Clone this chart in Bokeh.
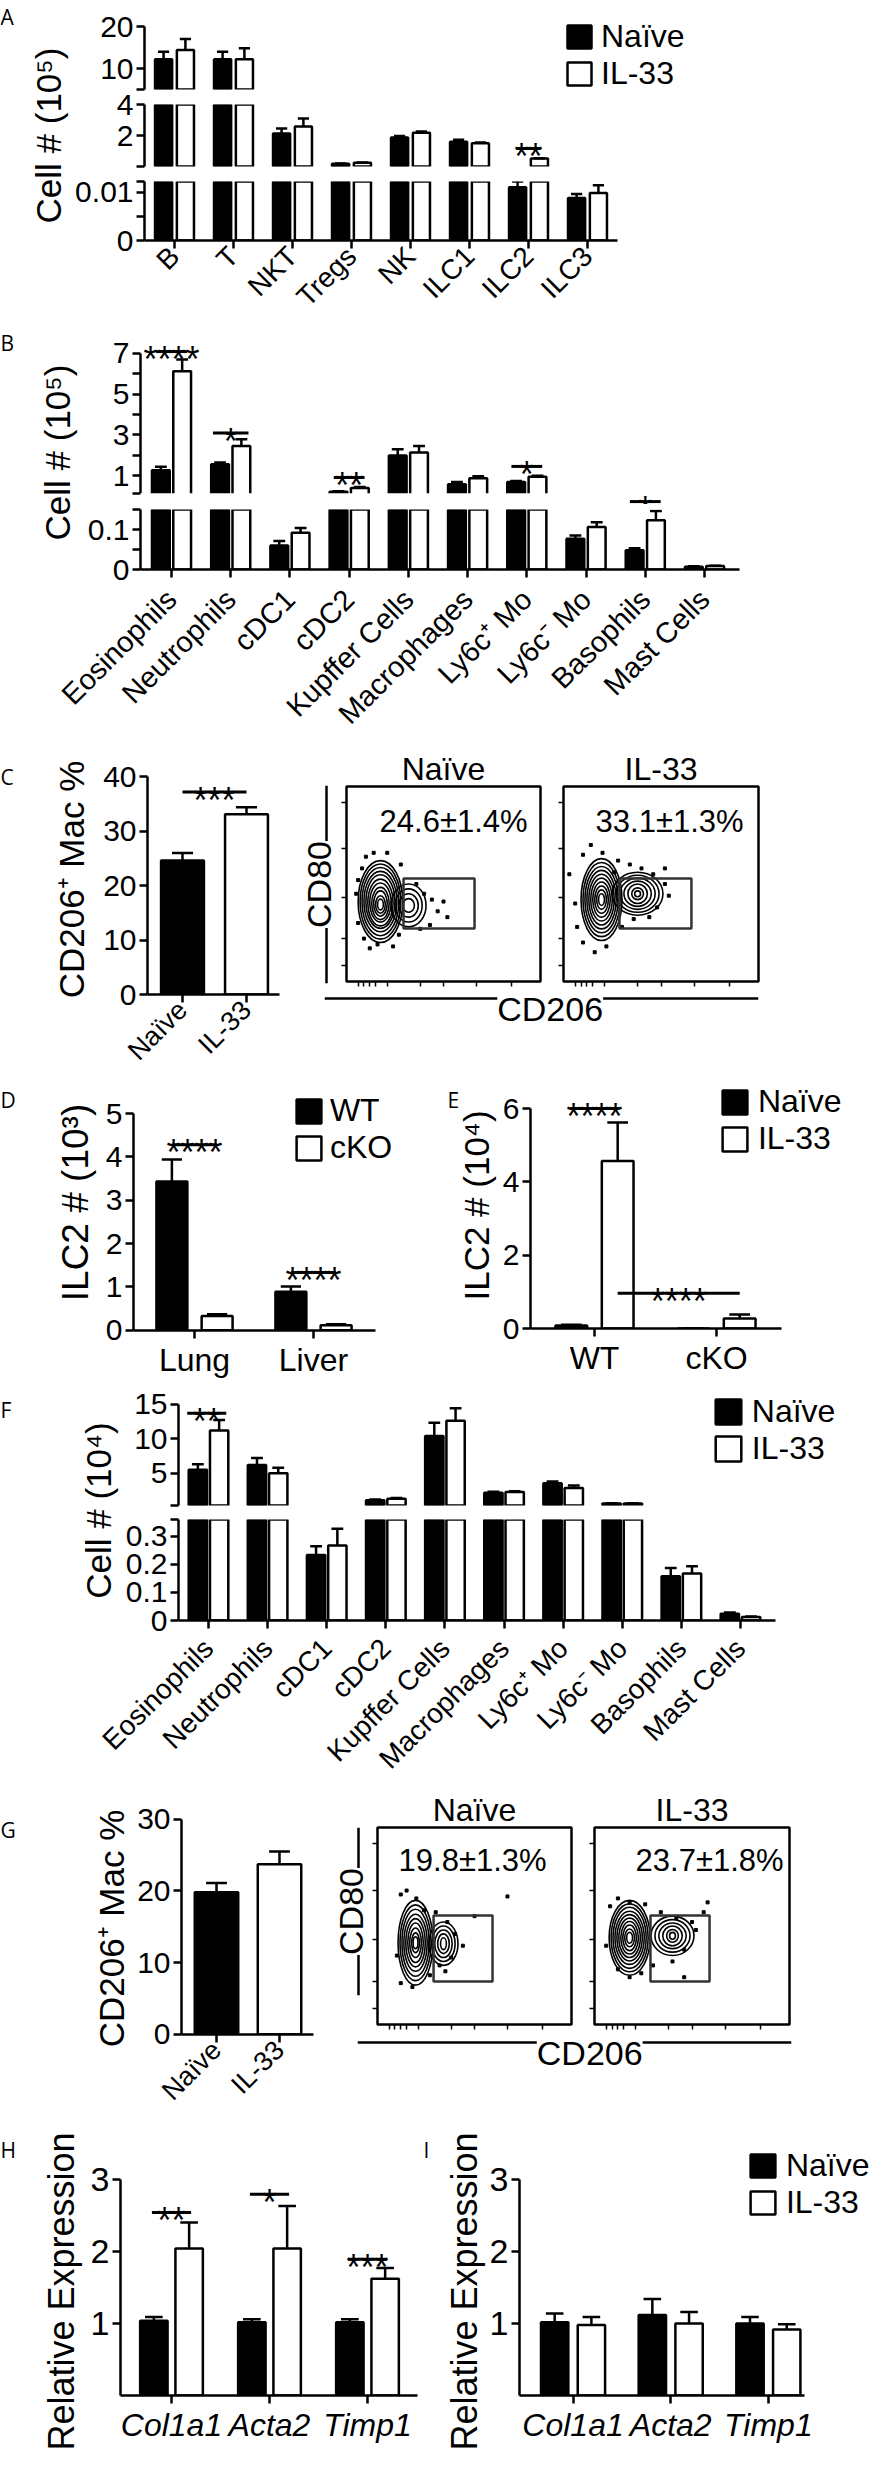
import math
from bokeh.plotting import figure
from bokeh.models import (Range1d, LinearAxis, FixedTicker, Label, Legend, LegendItem,
                          ColumnDataSource, Span, BoxAnnotation, CDSView, BooleanFilter)
from bokeh.layouts import row, column
from bokeh.embed import file_html
from bokeh.resources import INLINE
from bokeh.core.properties import value
from bokeh.core.validation import silence
from bokeh.core.validation.warnings import MISSING_RENDERERS

silence(MISSING_RENDERERS, True)

# ============================ DATA ============================
GROUPS = ["Naïve", "IL-33"]

# A: liver lymphocytes, Cell # (10^5)
A_cats = ["B", "T", "NKT", "Tregs", "NK", "ILC1", "ILC2", "ILC3"]
A_naive = [12.2, 12.2, 2.13, 0.19, 1.87, 1.61, 0.011, 0.0088]
A_naive_sem = [1.8, 1.8, 0.32, 0.02, 0.10, 0.13, 0.0012, 0.0008]
A_il33 = [14.4, 12.2, 2.58, 0.25, 2.19, 1.50, 0.52, 0.0098]
A_il33_sem = [2.6, 2.6, 0.52, 0.02, 0.07, 0.05, 0.03, 0.0016]
A_sig_x0 = [5.79]
A_sig_x1 = [6.21]
A_sig_y = [1.17]
A_sig_txt = ["**"]

# B: liver myeloid cells, Cell # (10^5)
B_cats = ["Eosinophils", "Neutrophils", "cDC1", "cDC2", "Kupffer Cells", "Macrophages",
          "Ly6c⁺ Mo", "Ly6c⁻ Mo", "Basophils", "Mast Cells"]
B_naive = [1.27, 1.57, 0.060, 0.22, 2.00, 0.59, 0.70, 0.077, 0.048, 0.007]
B_naive_sem = [0.18, 0.08, 0.011, 0.03, 0.30, 0.11, 0.05, 0.008, 0.005, 0.001]
B_il33 = [6.12, 2.46, 0.092, 0.40, 2.14, 0.88, 0.95, 0.106, 0.123, 0.0085]
B_il33_sem = [0.57, 0.33, 0.012, 0.05, 0.32, 0.10, 0.05, 0.012, 0.023, 0.001]
B_sig_x0 = [-0.26, 0.70, 2.74, 5.74, 7.74]
B_sig_x1 = [0.26, 1.30, 3.26, 6.26, 8.26]
B_sig_y = [7.08, 3.09, 0.92, 1.46, -0.26]
B_sig_txt = ["****", "*", "**", "*", "*"]

# C: CD206+ macrophages %
C_vals = [24.6, 33.1]
C_sem = [1.4, 1.3]
C_sig_x0 = [0.0]
C_sig_x1 = [1.0]
C_sig_y = [37.2]
C_sig_txt = ["***"]
C_pct = ["24.6±1.4%", "33.1±1.3%"]

# D: ILC2 # (10^3), WT vs cKO
D_cats = ["Lung", "Liver"]
D_groups = ["WT", "cKO"]
D_wt = [3.43, 0.89]
D_wt_sem = [0.51, 0.12]
D_cko = [0.33, 0.115]
D_cko_sem = [0.04, 0.025]
D_sig_x0 = [-0.19, 0.81]
D_sig_x1 = [0.19, 1.19]
D_sig_y = [4.28, 1.33]
D_sig_txt = ["****", "****"]

# E: ILC2 # (10^4)
E_cats = ["WT", "cKO"]
E_naive = [0.08, 0.0]
E_naive_sem = [0.02, 0.0]
E_il33 = [4.57, 0.27]
E_il33_sem = [1.05, 0.11]
E_sig_x0 = [-0.20, 0.19]
E_sig_x1 = [0.20, 1.19]
E_sig_y = [6.0, 0.96]
E_sig_txt = ["****", "****"]

# F: cKO myeloid cells, Cell # (10^4)
F_naive = [5.5, 6.2, 0.233, 1.09, 10.4, 2.16, 3.53, 0.60, 0.157, 0.024]
F_naive_sem = [0.8, 1.0, 0.031, 0.10, 1.9, 0.14, 0.27, 0.03, 0.030, 0.004]
F_il33 = [11.2, 5.0, 0.267, 1.28, 12.6, 2.26, 2.85, 0.60, 0.167, 0.012]
F_il33_sem = [1.5, 0.8, 0.059, 0.12, 1.8, 0.14, 0.35, 0.03, 0.026, 0.002]
F_sig_x0 = [-0.36]
F_sig_x1 = [0.30]
F_sig_y = [13.7]
F_sig_txt = ["**"]

# G: CD206+ macrophages % (cKO)
G_vals = [19.8, 23.7]
G_sem = [1.3, 1.8]
G_pct = ["19.8±1.3%", "23.7±1.8%"]

# H / I: relative expression
H_cats = ["Col1a1", "Acta2", "Timp1"]
H_naive = [1.04, 1.02, 1.02]
H_naive_sem = [0.05, 0.04, 0.04]
H_il33 = [2.04, 2.04, 1.62]
H_il33_sem = [0.36, 0.59, 0.15]
H_sig_x0 = [-0.20, 0.80, 1.80]
H_sig_x1 = [0.20, 1.20, 2.20]
H_sig_y = [2.54, 2.79, 1.89]
H_sig_txt = ["**", "*", "***"]
I_naive = [1.02, 1.12, 1.00]
I_naive_sem = [0.12, 0.22, 0.09]
I_il33 = [0.98, 1.00, 0.92]
I_il33_sem = [0.11, 0.16, 0.07]

# Flow plots (CD206 vs CD80): contour ellipses, events, gates
CN_ex = [17.5, 17.5, 17.5, 17.5, 17.5, 17.5, 17.5, 17.5, 17.5, 17.5, 17.5, 32, 32, 32, 32]
CN_ey = [41, 41, 41, 41, 41, 40.5, 40.5, 40, 40, 39.5, 39.5, 39, 39, 39, 39]
CN_ew = [23, 21, 19, 17, 15, 13, 11, 9, 7, 5, 3, 18, 14, 10, 6]
CN_eh = [42, 38.5, 35, 31, 27.5, 24, 20, 16.5, 13, 9, 5.5, 22, 17, 12, 7]
CN_dx = [8, 10, 14, 21, 5, 6, 9, 16, 24, 27, 36, 40, 44, 47, 43, 50, 52, 38, 6, 28, 12]
CN_dy = [58, 64, 66, 66, 45, 30, 22, 19, 18, 24, 50, 45, 42, 36, 29, 41, 33, 27, 52, 60, 17]
CN_gate = [29.4, 66.0, 27.2, 52.8]

CI_ex = [19.5, 19.5, 19.5, 19.5, 19.5, 19.5, 19.5, 19.5, 19.5, 19.5, 38, 38, 38, 38, 38, 38, 38]
CI_ey = [42, 42, 42, 42, 42, 42, 42, 42, 42, 42, 45, 45, 45, 45, 45, 45, 45]
CI_ew = [21, 19, 17, 15, 13, 11, 9, 7, 5, 3, 26, 22, 18, 14, 10, 6, 3]
CI_eh = [42, 38, 34, 30, 26, 22, 18, 14, 10, 6, 22, 19, 16, 13, 10, 6, 3]
CI_dx = [10, 14, 20, 28, 34, 40, 46, 52, 54, 6, 7, 10, 16, 22, 30, 36, 44, 48, 26, 3, 52]
CI_dy = [65, 70, 66, 62, 60, 58, 55, 50, 44, 40, 28, 20, 15, 18, 28, 32, 33, 38, 56, 55, 58]
CI_gate = [28.7, 65.6, 27.2, 52.8]

GN_ex = [19.6, 19.6, 19.6, 19.6, 19.6, 19.6, 19.6, 19.6, 19.6, 34, 34, 34, 34, 34]
GN_ey = [41.5, 41.5, 41.5, 41.5, 41.5, 41.5, 41.5, 41.5, 41.5, 41, 41, 41, 41, 41]
GN_ew = [18, 16, 14, 12, 10, 8, 6, 4, 2.5, 15, 12, 9, 6, 3]
GN_eh = [43, 38.5, 34, 29, 24.5, 20, 15, 10, 6, 22, 18, 14, 10, 6]
GN_dx = [12, 15, 20, 24, 30, 36, 40, 44, 38, 32, 27, 18, 12, 10, 50, 67, 35]
GN_dy = [66, 68, 64, 58, 57, 52, 46, 40, 34, 30, 25, 19, 21, 35, 55, 65, 27]
GN_gate = [28.9, 59.3, 21.8, 55.3]

GI_ex = [18, 18, 18, 18, 18, 18, 18, 18, 18, 18, 40, 40, 40, 40, 40, 40]
GI_ey = [44, 44, 44, 44, 44, 44, 44, 44, 44, 44, 45, 45, 45, 45, 45, 45]
GI_ew = [21, 19, 17, 15, 13, 11, 9, 7, 5, 3, 22, 18, 14, 10, 6, 3]
GI_eh = [38, 34.5, 31, 27, 23.5, 20, 16.5, 13, 9, 5.5, 20, 16.5, 13, 10, 6.5, 3.5]
GI_dx = [8, 12, 18, 26, 34, 42, 50, 56, 52, 46, 40, 30, 24, 18, 12, 6, 46, 58]
GI_dy = [60, 64, 62, 61, 57, 54, 52, 57, 48, 38, 32, 30, 26, 24, 28, 40, 24, 62]
GI_gate = [28.7, 59.0, 21.8, 55.3]

# ============================ STYLE / HELPERS ============================
FONT = "Liberation Sans"
LETTER_FONT = "Open Sans"
LW = 2.5
STAR = 36


def W(p):
    # isolate each plot in its own container so that layouts do not align frames
    return column(p)


def rng_from(va, ya, vb, yb, ftop, fbot):
    s = (ya - yb) / (vb - va)
    return Range1d(va - (fbot - ya) / s, vb + (yb - ftop) / s)


def xrng(tick0_px, spacing, fx0, fx1):
    return Range1d((fx0 - tick0_px) / spacing, (fx1 - tick0_px) / spacing)


def mkfig(box, frame, xr, yr):
    cx0, cy0, cx1, cy1 = box
    fx0, fy0, fx1, fy1 = frame
    p = figure(width=cx1 - cx0, height=cy1 - cy0, x_range=xr, y_range=yr,
               output_backend="svg", toolbar_location=None,
               x_axis_location=None, y_axis_location=None,
               min_border_left=fx0 - cx0, min_border_right=cx1 - fx1,
               min_border_top=fy0 - cy0, min_border_bottom=cy1 - fy1)
    p.outline_line_color = None
    p.grid.visible = False
    p.background_fill_color = "white"
    p.border_fill_color = "white"
    return p


def label_fig(box):
    return mkfig(box, box, Range1d(0, 1), Range1d(0, 1))


def style_axis(ax, size, italic=False):
    ax.axis_line_width = LW
    ax.axis_line_color = "black"
    ax.major_tick_line_width = LW
    ax.major_tick_line_color = "black"
    ax.major_tick_out = 8
    ax.major_tick_in = 0
    # unlabeled ticks (axis breaks, intermediate ticks) look like the labeled ones
    ax.minor_tick_line_width = LW
    ax.minor_tick_line_color = "black"
    ax.minor_tick_out = 8
    ax.minor_tick_in = 0
    ax.major_label_text_font = FONT
    ax.major_label_text_font_size = f"{size}px"
    ax.major_label_text_color = "black"
    ax.major_label_standoff = 3
    if italic:
        ax.major_label_text_font_style = "italic"


def yaxis(p, ticks, labels, bounds, size=30, minor=()):
    ax = LinearAxis(ticker=FixedTicker(ticks=ticks, minor_ticks=list(minor)), bounds=bounds,
                    major_label_overrides=dict(zip(ticks, labels)))
    style_axis(ax, size)
    p.add_layout(ax, "left")


def xaxis(p, names, size, orient=None, italic=False, bounds="auto", show_labels=True):
    idx = list(range(len(names)))
    if show_labels:
        ax = LinearAxis(ticker=FixedTicker(ticks=idx), bounds=bounds,
                        major_label_overrides={i: nm for i, nm in enumerate(names)})
    else:
        ax = LinearAxis(ticker=FixedTicker(ticks=[], minor_ticks=idx), bounds=bounds)
    style_axis(ax, size, italic)
    if orient is not None:
        ax.major_label_orientation = orient
    p.add_layout(ax, "below")


def xlabel_fig(box, frame, xr, names, size, orient):
    # category names of a broken-axis panel, drawn by an axis without line or ticks
    p = mkfig(box, frame, xr, Range1d(0, 1))
    ax = LinearAxis(ticker=FixedTicker(ticks=list(range(len(names)))),
                    major_label_overrides={i: nm for i, nm in enumerate(names)})
    style_axis(ax, size)
    ax.axis_line_color = None
    ax.major_tick_line_color = None
    ax.major_tick_out = 0
    ax.major_label_standoff = 2
    ax.major_label_orientation = orient
    p.add_layout(ax, "below")
    return p


def bars(p, xs, vals, sems, fill, width, capw, floor=None):
    src = ColumnDataSource(dict(x=xs, top=vals, err=[v + s for v, s in zip(vals, sems)],
                                xl=[x - capw / 2 for x in xs], xr=[x + capw / 2 for x in xs]))
    kw = {}
    if floor is not None:
        kw["view"] = CDSView(filter=BooleanFilter([v > floor for v in vals]))
    r = p.vbar(x="x", top="top", bottom=0, width=width, source=src,
               fill_color=fill, line_color="black", line_width=LW, **kw)
    p.segment(x0="x", y0="top", x1="x", y1="err", source=src, line_color="black", line_width=LW, **kw)
    p.segment(x0="xl", y0="err", x1="xr", y1="err", source=src, line_color="black", line_width=LW, **kw)
    return r


def pair(p, naive, nsem, il33, isem, off, width, capw, floor=None):
    n = len(naive)
    rn = bars(p, [i - off for i in range(n)], naive, nsem, "black", width, capw, floor)
    ri = bars(p, [i + off for i in range(n)], il33, isem, "white", width, capw, floor)
    return rn, ri


def sig(p, x0, x1, y, txt, size=STAR):
    src = ColumnDataSource(dict(x0=x0, x1=x1, y=y, xm=[(a + b) / 2 for a, b in zip(x0, x1)], t=txt))
    p.segment(x0="x0", y0="y", x1="x1", y1="y", source=src, line_color="black", line_width=3,
              level="overlay")
    p.text(x="xm", y="y", text="t", source=src, text_align="center", text_baseline="alphabetic",
           y_offset=8, text_font=value(FONT), text_font_size=value(f"{size}px"), text_color="black",
           level="overlay")


def lab(p, frame, text, px, py, size, angle=0.0, align="center", baseline="middle",
        font=FONT, style="normal"):
    fx0, fy0, fx1, fy1 = frame
    p.add_layout(Label(x=px - fx0, y=fy1 - py, x_units="screen", y_units="screen", text=text,
                       angle=angle, text_align=align, text_baseline=baseline, text_font=font,
                       text_font_size=f"{size}px", text_font_style=style, text_color="black"))


def letter(p, frame, text, px, py):
    lab(p, frame, text, px, py, 21, align="left", baseline="top", font=LETTER_FONT)


def ylab(p, frame, text, px, py, size=35):
    lab(p, frame, text, px, py, size, angle=math.pi / 2)


def legend(p, frame, rn, ri, names, sw_left, sw_tops, sw_w, sw_h, text_x, size=32):
    fx0, fy0, fx1, fy1 = frame
    gw = round(sw_w / 0.8)
    gh = round(sw_h / 0.8)
    pitch = sw_tops[1] - sw_tops[0]
    mh = math.ceil(1.117 * size)
    row_h = max(gh, pitch, mh)
    spacing = pitch - row_h
    box_x = sw_left - 0.1 * gw
    box_top = sw_tops[0] - 0.1 * gh
    leg_h = row_h + pitch
    leg = Legend(items=[LegendItem(label=names[0], renderers=[rn]),
                        LegendItem(label=names[1], renderers=[ri])],
                 location=(box_x - fx0, fy1 - (box_top + leg_h)),
                 orientation="vertical", glyph_width=gw, glyph_height=gh,
                 label_standoff=int(round(text_x - (box_x + gw))), label_height=pitch,
                 spacing=spacing, padding=0, margin=0, border_line_color=None,
                 background_fill_alpha=0, label_text_font=FONT,
                 label_text_font_size=f"{size}px", label_text_color="black",
                 label_text_baseline="middle")
    p.add_layout(leg)


def facs(box, frame, ex, ey, ew, eh, dx, dy, gate, title, pct, pct_xy):
    p = mkfig(box, frame, Range1d(0, 100), Range1d(0, 100))
    p.outline_line_color = "black"
    p.outline_line_width = LW
    p.title.text = title
    p.title.align = "center"
    p.title.text_font = FONT
    p.title.text_font_size = "32px"
    p.title.text_font_style = "normal"
    p.title.text_color = "black"
    p.title.standoff = 0
    for loc, ticks in (("left", [8, 22, 43, 68, 92]), ("below", [6, 9, 12, 15, 21, 38, 50, 67, 85])):
        ax = LinearAxis(ticker=FixedTicker(ticks=[], minor_ticks=ticks))
        ax.axis_line_color = None
        ax.major_tick_line_color = None
        ax.minor_tick_out = 5
        ax.minor_tick_in = 0
        ax.minor_tick_line_width = 1.5
        ax.minor_tick_line_color = "black"
        p.add_layout(ax, loc)
    p.ellipse(x=ex, y=ey, width=ew, height=eh, fill_color=None, line_color="black", line_width=1.6)
    p.scatter(x=dx, y=dy, marker="square", size=3, color="black")
    p.quad(left=[gate[0]], right=[gate[1]], bottom=[gate[2]], top=[gate[3]],
           fill_color=None, line_color="#333333", line_width=LW)
    p.add_layout(Label(x=pct_xy[0], y=pct_xy[1], x_units="data", y_units="data", text=pct,
                       text_align="center", text_baseline="middle", text_font=FONT,
                       text_font_size="31px", text_color="black"))
    return p


def cd80_fig(box, frame, left_units):
    # x range in pixel-like units: the axis line sits at 0
    p = mkfig(box, frame, Range1d(-left_units, 12), Range1d(0, 1))
    p.add_layout(Span(location=0, dimension="height", line_color="black", line_width=LW))
    p.add_layout(Label(x=-8, y=0.5, x_units="data", y_units="data", text="CD80", angle=math.pi / 2,
                       text_align="center", text_baseline="middle", text_font=FONT,
                       text_font_size="34px", text_color="black", background_fill_color="white"))
    return p


def cd206_fig(box, frame, frac):
    # y range in pixel-like units: the axis line sits at 0
    p = mkfig(box, frame, Range1d(0, 1), Range1d(-34, 10))
    p.add_layout(Span(location=0, dimension="width", line_color="black", line_width=LW))
    p.add_layout(Label(x=frac, y=-10, x_units="data", y_units="data", text="CD206",
                       text_align="center", text_baseline="middle", text_font=FONT,
                       text_font_size="34px", text_color="black", background_fill_color="white"))
    return p


# ============================ ROW 1: A ============================
fA_top = (152, 8, 878, 97)
fA_mid = (152, 112, 625, 174)
fA_bot = (152, 189, 625, 250)
A_top = mkfig((80, 8, 878, 99), fA_top, xrng(182, 59, 152, 878), rng_from(5, 97, 20, 34, 8, 97))
A_mid = mkfig((80, 99, 878, 181), fA_mid, xrng(182, 59, 152, 625), rng_from(0.0122, 174, 4, 112, 112, 174))
A_bot = mkfig((80, 181, 878, 334), fA_bot, xrng(182, 59, 152, 625), rng_from(0, 250, 0.0122, 189, 189, 250))
rnA, riA = pair(A_top, A_naive, A_naive_sem, A_il33, A_il33_sem, 0.185, 0.29, 0.19, 5)
pair(A_mid, A_naive, A_naive_sem, A_il33, A_il33_sem, 0.185, 0.29, 0.19, 0.0122)
pair(A_bot, A_naive, A_naive_sem, A_il33, A_il33_sem, 0.185, 0.29, 0.19)
yaxis(A_top, [10, 20], ["10", "20"], (5, 20), minor=[5])
yaxis(A_mid, [2, 4], ["2", "4"], (0.0122, 4), minor=[0.0122])
yaxis(A_bot, [0, 0.01], ["0", "0.01"], (0, 0.0122), minor=[0.005, 0.0122])
sig(A_mid, A_sig_x0, A_sig_x1, A_sig_y, A_sig_txt)
xaxis(A_bot, A_cats, 28, math.pi / 4)
legend(A_top, fA_top, rnA, riA, GROUPS, 575, [32, 67], 24, 23, 609)
fLA = (8, 8, 80, 334)
labelA = label_fig(fLA)
ylab(labelA, fLA, "Cell # (10⁵)", 56, 143)
letter(labelA, fLA, "A", 8, 10)
r1 = row(W(labelA), column(W(A_top), W(A_mid), W(A_bot)))

# ============================ ROW 2: B ============================
fB_top = (148, 335, 747, 510)
fB_bot = (148, 517, 747, 577)
xB = xrng(179, 59.22, 148, 747)
yB_top = rng_from(0.15, 500.7, 7, 360.7, 335, 510)
B_top = mkfig((86, 334, 878, 512), fB_top, xB, yB_top)
B_bot = mkfig((86, 512, 878, 590), fB_bot, xB, rng_from(0, 577, 0.15, 517, 517, 577))
pair(B_top, B_naive, B_naive_sem, B_il33, B_il33_sem, 0.18, 0.30, 0.2, 0.15)
pair(B_bot, B_naive, B_naive_sem, B_il33, B_il33_sem, 0.18, 0.30, 0.2)
# white gap of the broken axis below the top segment
B_top.add_layout(BoxAnnotation(top=0.15, bottom=yB_top.start, left=xB.start, right=xB.end,
                               fill_color="white", fill_alpha=1.0, line_color=None))
yaxis(B_top, [1, 3, 5, 7], ["1", "3", "5", "7"], (0.15, 7), minor=[0.15, 2, 4, 6])
yaxis(B_bot, [0, 0.1], ["0", "0.1"], (0, 0.15), minor=[0.05, 0.15])
sig(B_top, B_sig_x0, B_sig_x1, B_sig_y, B_sig_txt)
xaxis(B_bot, B_cats, 30, show_labels=False)
B_lab = xlabel_fig((8, 590, 878, 752), (148, 590, 747, 600), xB, B_cats, 29, math.pi / 4)
fLB = (8, 334, 86, 590)
labelB = label_fig(fLB)
ylab(labelB, fLB, "Cell # (10⁵)", 65, 460)
letter(labelB, fLB, "B", 8, 336)
r2 = column(row(W(labelB), column(W(B_top), W(B_bot))), W(B_lab))

# ============================ ROW 3: C ============================
fLC = (8, 752, 100, 1088)
labelC = label_fig(fLC)
ylab(labelC, fLC, "CD206⁺ Mac %", 79, 887)
letter(labelC, fLC, "C", 8, 770)
fC = (155, 770, 287, 1002)
C_bar = mkfig((100, 752, 300, 1088), fC, xrng(190, 64, 155, 287), rng_from(0, 1002, 40, 784.3, 770, 1002))
bars(C_bar, [0], [C_vals[0]], [C_sem[0]], "black", 0.67, 0.33)
bars(C_bar, [1], [C_vals[1]], [C_sem[1]], "white", 0.67, 0.33)
yaxis(C_bar, [0, 10, 20, 30, 40], ["0", "10", "20", "30", "40"], (0, 40))
xaxis(C_bar, GROUPS, 27, math.pi / 4)
sig(C_bar, C_sig_x0, C_sig_x1, C_sig_y, C_sig_txt)
cd80_C = cd80_fig((300, 752, 346, 996), (304, 793, 346, 991), 30)
naive_C = facs((346, 752, 560, 996), (354, 794, 548, 989), CN_ex, CN_ey, CN_ew, CN_eh, CN_dx, CN_dy,
               CN_gate, GROUPS[0], C_pct[0], (55.2, 82))
il33_C = facs((560, 752, 878, 996), (571, 794, 766, 989), CI_ex, CI_ey, CI_ew, CI_eh, CI_dx, CI_dy,
              CI_gate, GROUPS[1], C_pct[1], (54.4, 82))
cd206_C = cd206_fig((300, 996, 878, 1088), (332, 996, 766, 1040), 0.52)
r3 = row(W(labelC), W(C_bar), column(row(W(cd80_C), W(naive_C), W(il33_C)), W(cd206_C)))

# ============================ ROW 4: D, E ============================
fLD = (8, 1088, 105, 1392)
labelD = label_fig(fLD)
ylab(labelD, fLD, "ILC2 # (10³)", 83, 1210, 37)
letter(labelD, fLD, "D", 8, 1093)
fD = (141, 1090, 450, 1338)
D = mkfig((105, 1088, 450, 1392), fD, xrng(202, 119, 141, 450), rng_from(0, 1337.7, 5, 1121, 1090, 1338))
rnD, riD = pair(D, D_wt, D_wt_sem, D_cko, D_cko_sem, 0.19, 0.26, 0.17)
yaxis(D, [0, 1, 2, 3, 4, 5], ["0", "1", "2", "3", "4", "5"], (0, 5))
xaxis(D, D_cats, 32, bounds=((141 - 202) / 119, (383 - 202) / 119))
sig(D, D_sig_x0, D_sig_x1, D_sig_y, D_sig_txt)
legend(D, fD, rnD, riD, D_groups, 304, [1103, 1140], 25, 24, 338)

fLE = (450, 1088, 505, 1392)
labelE = label_fig(fLE)
ylab(labelE, fLE, "ILC2 # (10⁴)", 484, 1213)
letter(labelE, fLE, "E", 455, 1093)
fE = (538, 1090, 878, 1336)
E = mkfig((505, 1088, 878, 1392), fE, xrng(602, 122, 538, 878), rng_from(0, 1336, 6, 1116, 1090, 1336))
rnE, riE = pair(E, E_naive, E_naive_sem, E_il33, E_il33_sem, 0.19, 0.26, 0.17)
yaxis(E, [0, 2, 4, 6], ["0", "2", "4", "6"], (0, 6))
xaxis(E, E_cats, 32, bounds=((538 - 602) / 122, (789 - 602) / 122))
sig(E, E_sig_x0, E_sig_x1, E_sig_y, E_sig_txt)
legend(E, fE, rnE, riE, GROUPS, 730, [1098, 1132], 25, 24, 766)
r4 = row(W(labelD), W(D), W(labelE), W(E))

# ============================ ROW 5: F ============================
fF_top = (186, 1392, 878, 1513)
fF_bot = (186, 1527, 783, 1628)
xF = xrng(216, 59.11, 186, 783)
F_top = mkfig((128, 1392, 878, 1519), fF_top, xrng(216, 59.11, 186, 878),
              rng_from(0.36, 1512.7, 15, 1411.7, 1392, 1513))
F_bot = mkfig((128, 1519, 878, 1641), fF_bot, xF, rng_from(0, 1628, 0.359, 1527, 1527, 1628))
rnF, riF = pair(F_top, F_naive, F_naive_sem, F_il33, F_il33_sem, 0.18, 0.31, 0.2, 0.36)
pair(F_bot, F_naive, F_naive_sem, F_il33, F_il33_sem, 0.18, 0.31, 0.2)
yaxis(F_top, [5, 10, 15], ["5", "10", "15"], (0.36, 15), minor=[0.36])
yaxis(F_bot, [0, 0.1, 0.2, 0.3], ["0", "0.1", "0.2", "0.3"], (0, 0.359), minor=[0.359])
sig(F_top, F_sig_x0, F_sig_x1, F_sig_y, F_sig_txt)
xaxis(F_bot, B_cats, 30, show_labels=False)
legend(F_top, fF_top, rnF, riF, GROUPS, 723, [1407, 1442], 26, 25, 760)
F_lab = xlabel_fig((8, 1641, 878, 1796), (186, 1641, 783, 1651), xF, B_cats, 28, math.pi / 4)
fLF = (8, 1392, 128, 1641)
labelF = label_fig(fLF)
ylab(labelF, fLF, "Cell # (10⁴)", 106, 1518)
letter(labelF, fLF, "F", 8, 1403)
r5 = column(row(W(labelF), column(W(F_top), W(F_bot))), W(F_lab))

# ============================ ROW 6: G ============================
fLG = (8, 1796, 140, 2132)
labelG = label_fig(fLG)
ylab(labelG, fLG, "CD206⁺ Mac %", 119, 1936)
letter(labelG, fLG, "G", 8, 1823)
fG = (189, 1810, 321, 2042)
G_bar = mkfig((140, 1796, 336, 2132), fG, xrng(224, 63, 189, 321), rng_from(0, 2041.7, 30, 1826.7, 1810, 2042))
bars(G_bar, [0], [G_vals[0]], [G_sem[0]], "black", 0.69, 0.33)
bars(G_bar, [1], [G_vals[1]], [G_sem[1]], "white", 0.69, 0.33)
yaxis(G_bar, [0, 10, 20, 30], ["0", "10", "20", "30"], (0, 30))
xaxis(G_bar, GROUPS, 27, math.pi / 4)
cd80_G = cd80_fig((336, 1796, 378, 2040), (338, 1835, 378, 2003), 28)
naive_G = facs((378, 1796, 590, 2040), (385, 1835, 579, 2032), GN_ex, GN_ey, GN_ew, GN_eh, GN_dx, GN_dy,
               GN_gate, GROUPS[0], G_pct[0], (49, 83.2))
il33_G = facs((590, 1796, 878, 2040), (602, 1835, 797, 2032), GI_ex, GI_ey, GI_ew, GI_eh, GI_dx, GI_dy,
              GI_gate, GROUPS[1], G_pct[1], (59, 83.2))
cd206_G = cd206_fig((336, 2040, 878, 2132), (365, 2040, 799, 2084), 0.535)
r6 = row(W(labelG), W(G_bar), column(row(W(cd80_G), W(naive_G), W(il33_G)), W(cd206_G)))

# ============================ ROW 7: H, I ============================
fLH = (8, 2132, 95, 2461)
labelH = label_fig(fLH)
ylab(labelH, fLH, "Relative Expression", 69, 2299, 36)
letter(labelH, fLH, "H", 8, 2143)
fH = (128, 2134, 425, 2403)
H = mkfig((95, 2132, 428, 2461), fH, xrng(179, 98, 128, 425), rng_from(0, 2403.3, 3, 2186.7, 2134, 2403))
pair(H, H_naive, H_naive_sem, H_il33, H_il33_sem, 0.18, 0.28, 0.18)
yaxis(H, [0, 1, 2, 3], ["0", "1", "2", "3"], (0, 3), 34)
xaxis(H, H_cats, 32, italic=True)
sig(H, H_sig_x0, H_sig_x1, H_sig_y, H_sig_txt)

fLI = (428, 2132, 494, 2461)
labelI = label_fig(fLI)
ylab(labelI, fLI, "Relative Expression", 472, 2299, 36)
letter(labelI, fLI, "I", 431, 2143)
fI = (524, 2134, 878, 2403)
I = mkfig((494, 2132, 878, 2461), fI, xrng(578, 98.5, 524, 878), rng_from(0, 2403.3, 3, 2186.7, 2134, 2403))
rnI, riI = pair(I, I_naive, I_naive_sem, I_il33, I_il33_sem, 0.188, 0.28, 0.18)
yaxis(I, [0, 1, 2, 3], ["0", "1", "2", "3"], (0, 3), 34)
xaxis(I, H_cats, 32, italic=True, bounds=((524 - 578) / 98.5, (811 - 578) / 98.5))
legend(I, fI, rnI, riI, GROUPS, 755, [2163, 2196], 25, 23, 791)
r7 = row(W(labelH), W(H), W(labelI), W(I))

page = column(r1, r2, r3, r4, r5, r6, r7)
open("out.html", "w").write(file_html(page, INLINE, title="IL-33 liver immune cells"))
